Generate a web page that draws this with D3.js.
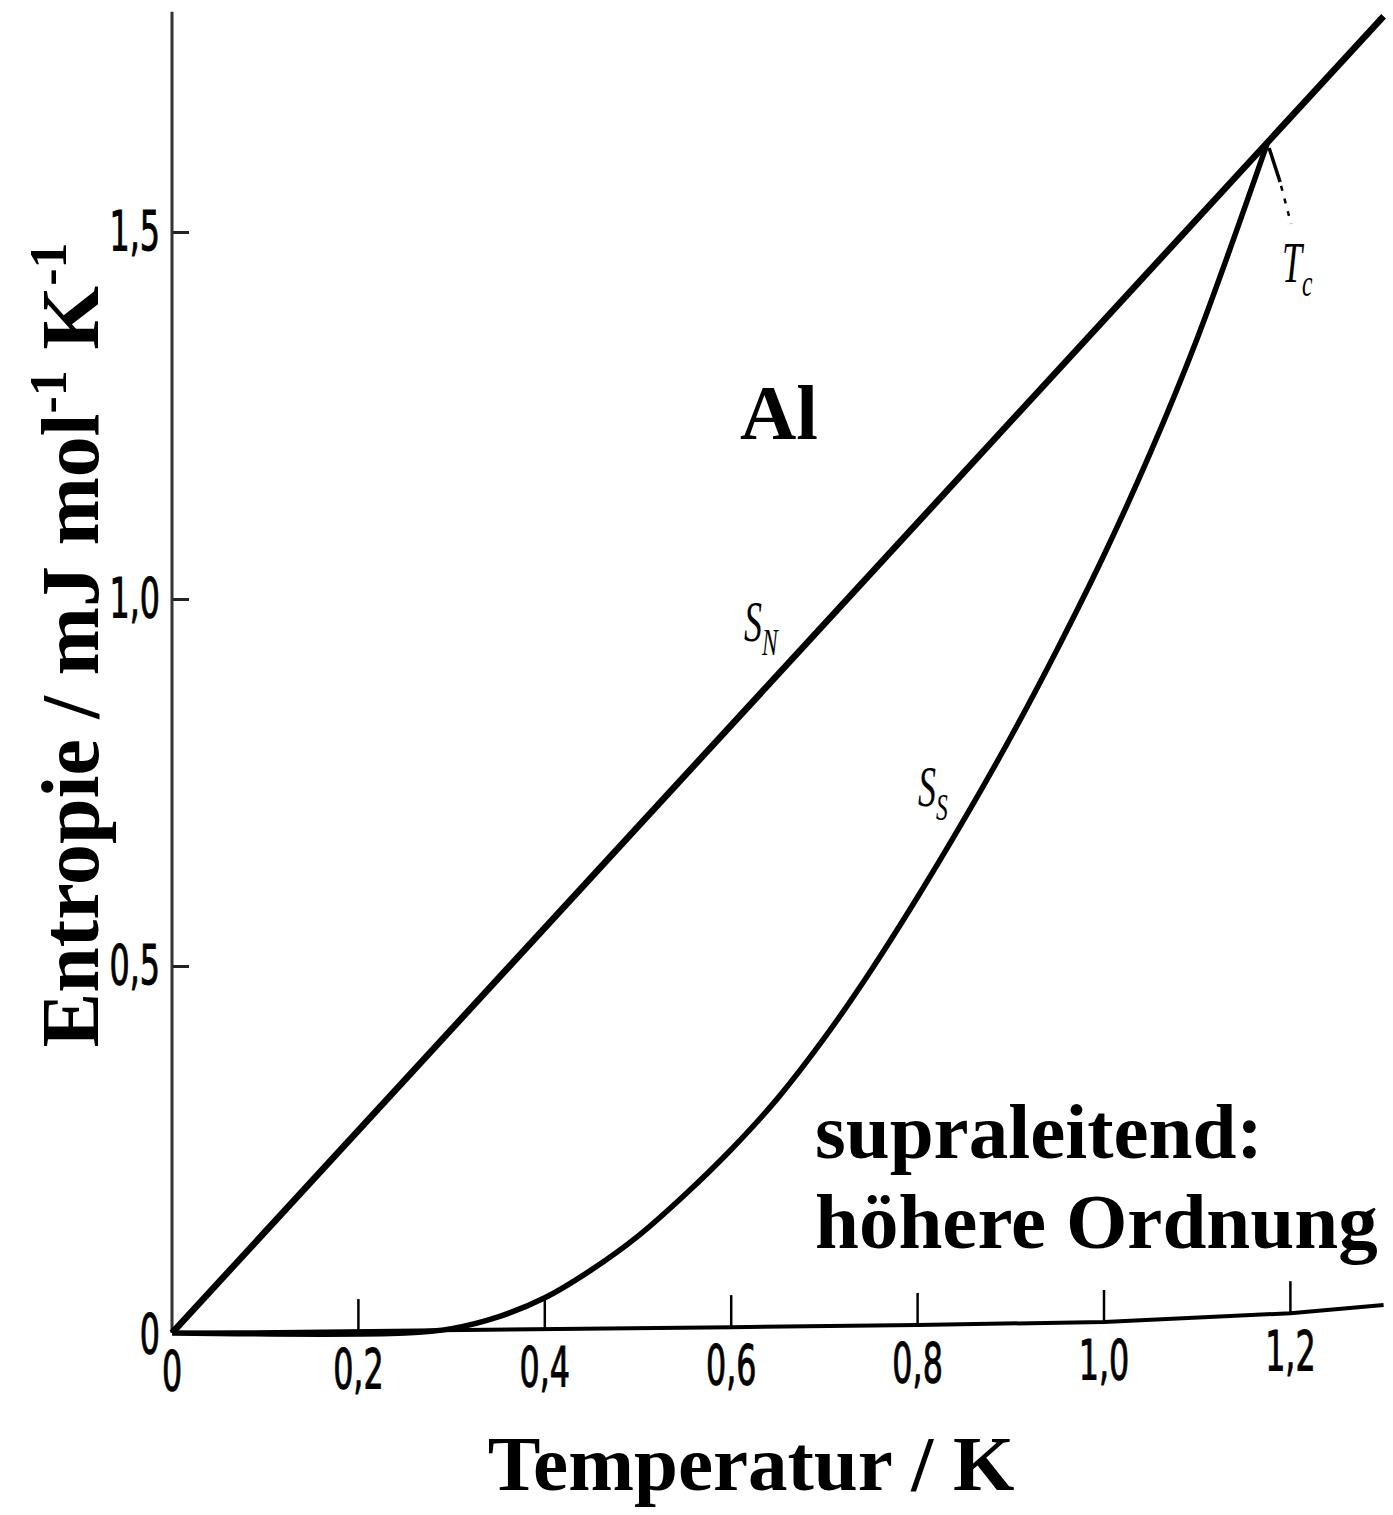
<!DOCTYPE html>
<html>
<head>
<meta charset="utf-8">
<script src="https://cdn.jsdelivr.net/npm/d3@7"></script>
<style>
  html, body { margin: 0; padding: 0; background: #fff; }
  svg { display: block; }
</style>
</head>
<body>
<div id="chart"></div>
<script>
// Temperature ticks (K) and entropy ticks (mJ mol^-1 K^-1)
const xTicks = [0, 0.2, 0.4, 0.6, 0.8, 1.0, 1.2];
const yTicks = [0.5, 1.0, 1.5];

// normal state: straight line S_N = gamma * T
const normalT = [0, 1.3];
const normalS = [0, 1.794];

// superconducting state S_S
const superT = [0, 0.25, 0.30, 0.35, 0.40, 0.45, 0.50, 0.55, 0.60, 0.65, 0.70, 0.75, 0.80, 0.85, 0.90, 0.95, 1.00, 1.05, 1.10, 1.175];
const superS = [0, 0, 0.006, 0.022, 0.048, 0.086, 0.132, 0.188, 0.25, 0.32, 0.402, 0.494, 0.594, 0.70, 0.812, 0.932, 1.06, 1.20, 1.355, 1.62];

// the scanned temperature axis is slightly tilted
const baseT = [0, 0.6, 0.8, 1.0, 1.2, 1.3];
const baseS = [0, 0.008, 0.011, 0.015, 0.027, 0.038];

const Tc = 1.175;

const width = 1393, height = 1515;
const fmt = d => d === 0 ? "0" : d3.format(".1f")(d).replace(".", ",");

const svg = d3.select("#chart").append("svg")
  .attr("width", width)
  .attr("height", height);

const x = d3.scaleLinear().domain([0, 1.3]).range([172, 172 + 1.3 * 932]);
const y = d3.scaleLinear().domain([0, 1.8]).range([1333, 1333 - 1.8 * 734]);

const baseAt = d3.scaleLinear().domain(baseT).range(baseS);

const numFont = "'Liberation Sans Narrow', 'DejaVu Sans Condensed', sans-serif";
const squeeze = 0.63;

// y axis
const yAxis = svg.append("g")
  .attr("transform", `translate(${x(0)},0)`)
  .call(d3.axisLeft(y).tickValues(yTicks).tickFormat(fmt).tickSizeInner(-17).tickSizeOuter(0).tickPadding(12));
yAxis.select(".domain").remove();
yAxis.selectAll(".tick line").attr("stroke", "#222").attr("stroke-width", 3);
yAxis.selectAll(".tick text")
  .attr("font-family", numFont)
  .attr("font-size", 56)
  .attr("fill", "#000")
  .attr("stroke", "#000").attr("stroke-width", 1)
  .attr("x", -12 / squeeze)
  .attr("transform", `scale(${squeeze},1)`);

svg.append("line")
  .attr("x1", x(0)).attr("x2", x(0))
  .attr("y1", y(0)).attr("y2", y(1.8))
  .attr("stroke", "#333").attr("stroke-width", 3);

// "0" on the entropy axis
svg.append("text")
  .attr("transform", `translate(${x(0) - 12},${y(0)}) scale(${squeeze},1)`)
  .attr("text-anchor", "end")
  .attr("dy", "0.36em")
  .attr("font-family", numFont)
  .attr("font-size", 56)
  .attr("stroke", "#000").attr("stroke-width", 1)
  .text("0");

// x axis, ticks shifted to follow the tilted baseline
const xAxis = svg.append("g")
  .attr("transform", `translate(0,${y(0)})`)
  .call(d3.axisBottom(x).tickValues(xTicks).tickFormat(fmt).tickSizeInner(-32).tickSizeOuter(0).tickPadding(17));
xAxis.select(".domain").remove();
xAxis.selectAll(".tick")
  .attr("transform", d => `translate(${x(d)},${y(baseAt(d)) - y(0)})`);
xAxis.selectAll(".tick line")
  .attr("stroke", "#000").attr("stroke-width", 2.5)
  .attr("display", d => d === 0 ? "none" : null);
xAxis.selectAll(".tick text")
  .attr("font-family", numFont)
  .attr("font-size", 56)
  .attr("fill", "#000")
  .attr("stroke", "#000").attr("stroke-width", 1)
  .attr("transform", `scale(${squeeze},1)`);

const line = d3.line().x(d => x(d[0])).y(d => y(d[1]));
const lineCurve = d3.line().x(d => x(d[0])).y(d => y(d[1])).curve(d3.curveCatmullRom.alpha(0.5));

// baseline
svg.append("path")
  .datum(baseT.map((t, i) => [t, baseS[i]]))
  .attr("d", line)
  .attr("fill", "none").attr("stroke", "#000").attr("stroke-width", 4);

// S_N
svg.append("path")
  .datum(normalT.map((t, i) => [t, normalS[i]]))
  .attr("d", line)
  .attr("fill", "none").attr("stroke", "#000").attr("stroke-width", 6.5);

// S_S
svg.append("path")
  .datum(superT.map((t, i) => [t, superS[i]]))
  .attr("d", lineCurve)
  .attr("fill", "none").attr("stroke", "#000").attr("stroke-width", 5.5);

// Tc pointer
const tcX = x(Tc), tcY = y(superS[superS.length - 1]);
svg.append("line")
  .attr("x1", tcX + 2).attr("y1", tcY + 4)
  .attr("x2", tcX + 13).attr("y2", tcY + 38)
  .attr("stroke", "#000").attr("stroke-width", 3.5);
svg.append("line")
  .attr("x1", tcX + 14).attr("y1", tcY + 42)
  .attr("x2", tcX + 24).attr("y2", tcY + 80)
  .attr("stroke", "#000").attr("stroke-width", 2.5)
  .attr("stroke-dasharray", "5,8");

// curve labels
const serif = "'Liberation Serif', 'DejaVu Serif', serif";
function subLabel(px, py, main, sub) {
  const g = svg.append("g").attr("transform", `translate(${px},${py}) scale(0.62,1)`);
  const t = g.append("text").attr("font-family", serif).attr("font-size", 58).attr("font-style", "italic");
  t.append("tspan").text(main);
  t.append("tspan").attr("font-size", 38).attr("dy", 14).text(sub);
}
subLabel(744, 641, "S", "N");
subLabel(918, 806, "S", "S");
subLabel(1282, 282, "T", "c");

// bold annotations
const bold = "'Liberation Serif', 'Times New Roman', serif";
svg.append("text")
  .attr("x", 740).attr("y", 439)
  .attr("font-family", bold).attr("font-weight", "bold").attr("font-size", 78)
  .text("Al");

svg.append("text")
  .attr("x", 815).attr("y", 1158)
  .attr("font-family", bold).attr("font-weight", "bold").attr("font-size", 79)
  .text("supraleitend:");
svg.append("text")
  .attr("x", 815).attr("y", 1248)
  .attr("font-family", bold).attr("font-weight", "bold").attr("font-size", 79)
  .text("höhere Ordnung");

// axis titles
svg.append("text")
  .attr("x", 751).attr("y", 1490)
  .attr("text-anchor", "middle")
  .attr("font-family", bold).attr("font-weight", "bold").attr("font-size", 79)
  .text("Temperatur / K");

const yTitle = svg.append("text")
  .attr("transform", "translate(98,645) rotate(-90)")
  .attr("text-anchor", "middle")
  .attr("font-family", bold).attr("font-weight", "bold").attr("font-size", 82);
yTitle.append("tspan").text("Entropie / mJ mol");
yTitle.append("tspan").attr("font-size", 52).attr("dy", -32).text("-1");
yTitle.append("tspan").attr("dy", 32).text(" K");
yTitle.append("tspan").attr("font-size", 52).attr("dy", -32).text("-1");
</script>
</body>
</html>
